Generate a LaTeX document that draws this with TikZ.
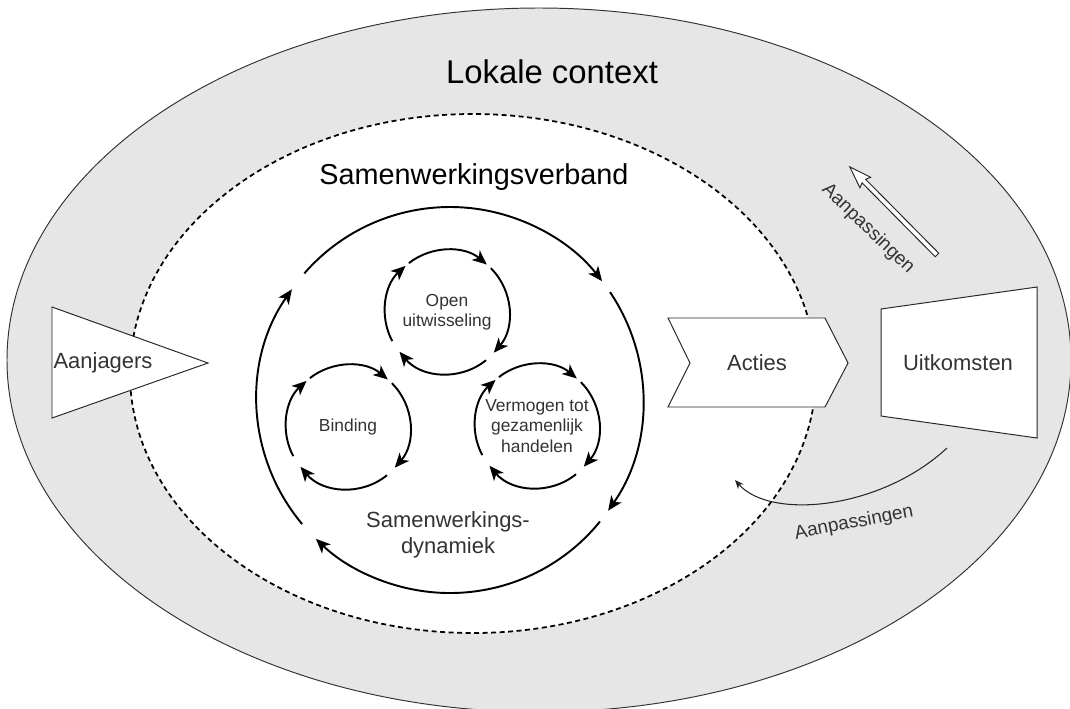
\documentclass[tikz,border=0pt]{standalone}
\usepackage{fontspec}
\setmainfont{Liberation Sans}
\usetikzlibrary{arrows.meta}
\definecolor{ctxgray}{HTML}{E6E6E6}
\definecolor{txt}{HTML}{333333}

\begin{document}
\begin{tikzpicture}[x=0.02cm, y=0.02cm,
    cyc/.style={line width=1.1pt, -{Stealth[length=2.9mm, width=2.5mm, inset=0.8mm]}},
    shp/.style={draw=black!85, fill=white, line width=0.55pt},
    lbl/.style={text=txt, font=\fontsize{12.5}{14.7}\selectfont, align=center, inner sep=0pt},
    small/.style={text=txt, font=\fontsize{9.9}{11.6}\selectfont, align=center, inner sep=0pt},
    tag/.style={text=txt, font=\fontsize{10.8}{13}\selectfont, inner sep=0pt}]
    \useasboundingbox (0,0) rectangle (1070,-708);
    \draw[fill=ctxgray, draw=black!80, line width=0.55pt] (539,-360) ellipse [x radius=532, y radius=352];
    \draw[fill=white, line width=1pt, dash pattern=on 1mm off 0.7mm] (473,-373.5) ellipse [x radius=343, y radius=259.5];
    \node[font=\fontsize{18.7}{22}\selectfont, inner sep=0pt] (ctx) at (552,-72) {Lokale context};
    \node[font=\fontsize{16.4}{19}\selectfont, inner sep=0pt] (sv) at (474,-177) {Samenwerkingsverband};

    % dynamiek
    \coordinate (o) at (450,-400);
    \foreach \a/\b in {139/38, 34/-35, -39/-134, 220/145}
        \draw[cyc] (o) ++(\a:193) arc (\a:\b:193);
    \node[lbl] (sd) at (448,-535) {Samenwerkings-\\dynamiek};
    \node[small] (open) at (447,-312) {Open\\uitwisseling};
    \node[small] (bind) at (348,-427) {Binding};
    \node[small] (verm) at (537,-426) {Vermogen tot\\gezamenlijk\\handelen};
    \foreach \n in {open, bind, verm}
        \foreach \a/\b in {128/50, 45/-41, -51/-140, 208/132}
            \draw[cyc] (\n.center) ++(\a:62) arc (\a:\b:62);

    % aanjagers, acties, uitkomsten
    \draw[shp] (52,-307) -- (208,-363) -- (52,-418) -- cycle;
    \node[lbl] (aanj) at (103,-363) {Aanjagers};
    \draw[shp] (668,-318) -- (825,-318) -- (848,-363) -- (825,-407) -- (668,-407) -- (690,-363) -- cycle;
    \node[lbl] (act) at (757,-363) {Acties};
    \draw[shp] (881,-309) -- (1037,-287) -- (1037,-438) -- (881,-416) -- cycle;
    \node[lbl] (uit) at (958,-363) {Uitkomsten};

    % aanpassingen
    \coordinate (apa) at (937,-255);
    \begin{scope}[shift={(apa)}, rotate=134.7]
        \draw[shp] (0,-2.5) -- (104,-2.5) -- (102,-7.5) -- (124,0) -- (102,7.5) -- (104,2.5) -- (0,2.5) -- cycle;
    \end{scope}
    \node[tag, rotate=-44] (apt) at (868,-229) {Aanpassingen};
    \coordinate (lpa) at (947,-448);
    \coordinate (lpb) at (735,-480);
    \draw[draw=black!85, line width=0.6pt, -{Stealth[length=1.8mm, width=1.5mm]}] (lpa) .. controls (880,-510) and (770,-520) .. (lpb);
    \node[tag, rotate=11] (lpt) at (854,-523) {Aanpassingen};
\end{tikzpicture}
\end{document}
